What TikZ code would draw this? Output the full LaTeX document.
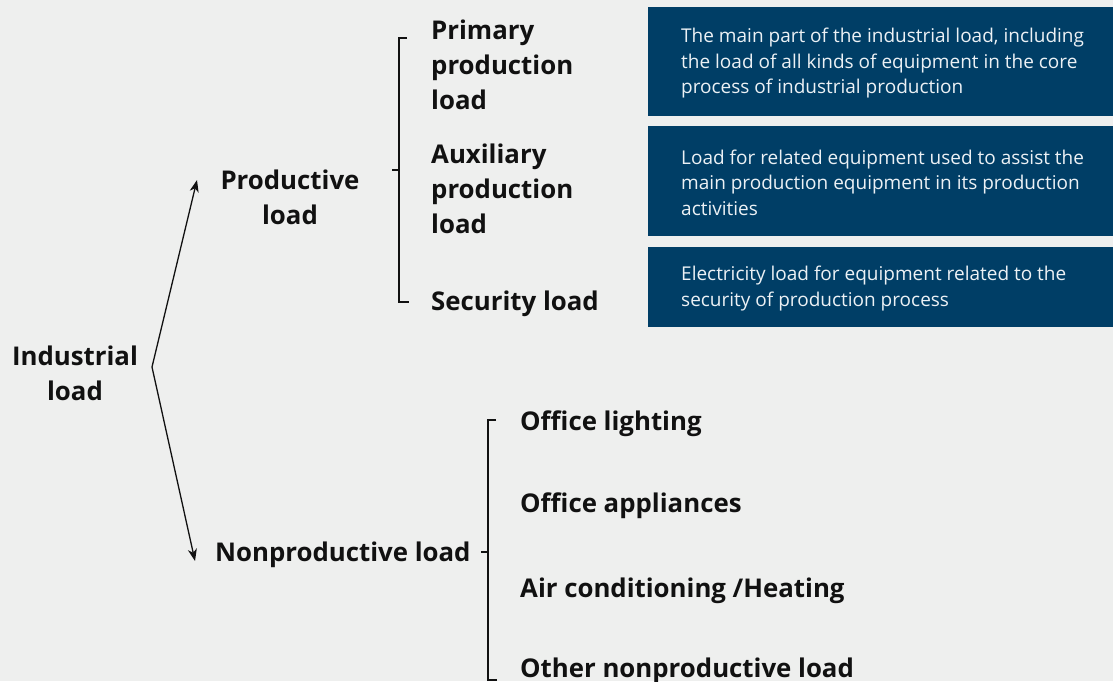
\documentclass[tikz,border=0pt]{standalone}
\usepackage{fontspec}
\setmainfont{Open Sans}
\usetikzlibrary{arrows.meta}
\definecolor{bgc}{RGB}{238,239,238}
\definecolor{boxc}{RGB}{0,62,102}
\definecolor{inkc}{RGB}{17,17,17}
\definecolor{boxtxt}{RGB}{236,241,245}
\begin{document}
\begin{tikzpicture}[x=1pt,y=-1pt,
  lbl/.style={inner sep=0pt,yshift=-3pt,font=\bfseries\fontsize{25.8}{35}\selectfont,text=inkc,align=left},
  clbl/.style={lbl,align=center},
  descbox/.style={fill=boxc,inner sep=0pt,minimum width=465pt,anchor=north west},
  desctext/.style={inner sep=0pt,anchor=west,align=left,text=boxtxt,font=\fontsize{19}{25.5}\selectfont},
  brk/.style={draw=inkc,line width=2pt},
  arr/.style={draw=inkc,line width=1.3pt,-{Stealth[length=12pt,width=9pt,inset=3.5pt]}}]
\useasboundingbox (0,0) rectangle (1113,681);
\clip (0,0) rectangle (1113,681);
\fill[bgc] (0,0) rectangle (1113,681);

% root and its two branches
\node[clbl] (ind) at (75,370) {Industrial\\load};
\node[clbl] (prod) at (290,194) {Productive\\load};
\node[lbl,anchor=west] (nonprod) at (215,552) {Nonproductive load};

\coordinate (fork) at (152,367);
\coordinate (uptip) at (197,180);
\coordinate (downtip) at (195,561);
\draw[arr] (fork) -- (uptip);
\draw[arr] (fork) -- (downtip);

% productive load bracket
\coordinate (b1top) at (399,38);
\coordinate (b1bot) at (399,302);
\coordinate (b1mid) at (399,170);
\draw[brk] ([xshift=8pt]b1top) -- (b1top) -- (b1bot) -- ([xshift=10pt]b1bot);
\draw[brk] ([xshift=-7pt]b1mid) -- (b1mid);

\node[lbl,anchor=west] (prim) at (431,62) {Primary\\production\\load};
\node[lbl,anchor=west] (aux) at (431,186) {Auxiliary\\production\\load};
\node[lbl,anchor=west] (sec) at (431,301) {Security load};

% description boxes
\node[descbox,minimum height=109pt] (d1) at (648,7) {};
\node[desctext] (t1) at ([xshift=33pt,yshift=-1.5pt]d1.west) {The main part of the industrial load, including\\the load of all kinds of equipment in the core\\process of industrial production};
\node[descbox,minimum height=110pt] (d2) at (648,126) {};
\node[desctext] (t2) at ([xshift=33pt,yshift=-1.5pt]d2.west) {Load for related equipment used to assist the\\main production equipment in its production\\activities};
\node[descbox,minimum height=80pt] (d3) at (648,247) {};
\node[desctext] (t3) at ([xshift=33pt,yshift=-1.5pt]d3.west) {Electricity load for equipment related to the\\security of production process};

% nonproductive load bracket
\coordinate (b2top) at (488,420);
\coordinate (b2bot) at (488,680);
\coordinate (b2mid) at (488,552);
\draw[brk] ([xshift=8pt]b2top) -- (b2top) -- (b2bot) -- ([xshift=9pt]b2bot);
\draw[brk] ([xshift=-7pt]b2mid) -- (b2mid);

\node[lbl,anchor=west] (light) at (520,421) {Office lighting};
\node[lbl,anchor=west] (appl) at (520,503) {Office appliances};
\node[lbl,anchor=west] (hvac) at (520,588) {Air conditioning /Heating};
\node[lbl,anchor=west] (other) at (520,668) {Other nonproductive load};
\end{tikzpicture}
\end{document}
